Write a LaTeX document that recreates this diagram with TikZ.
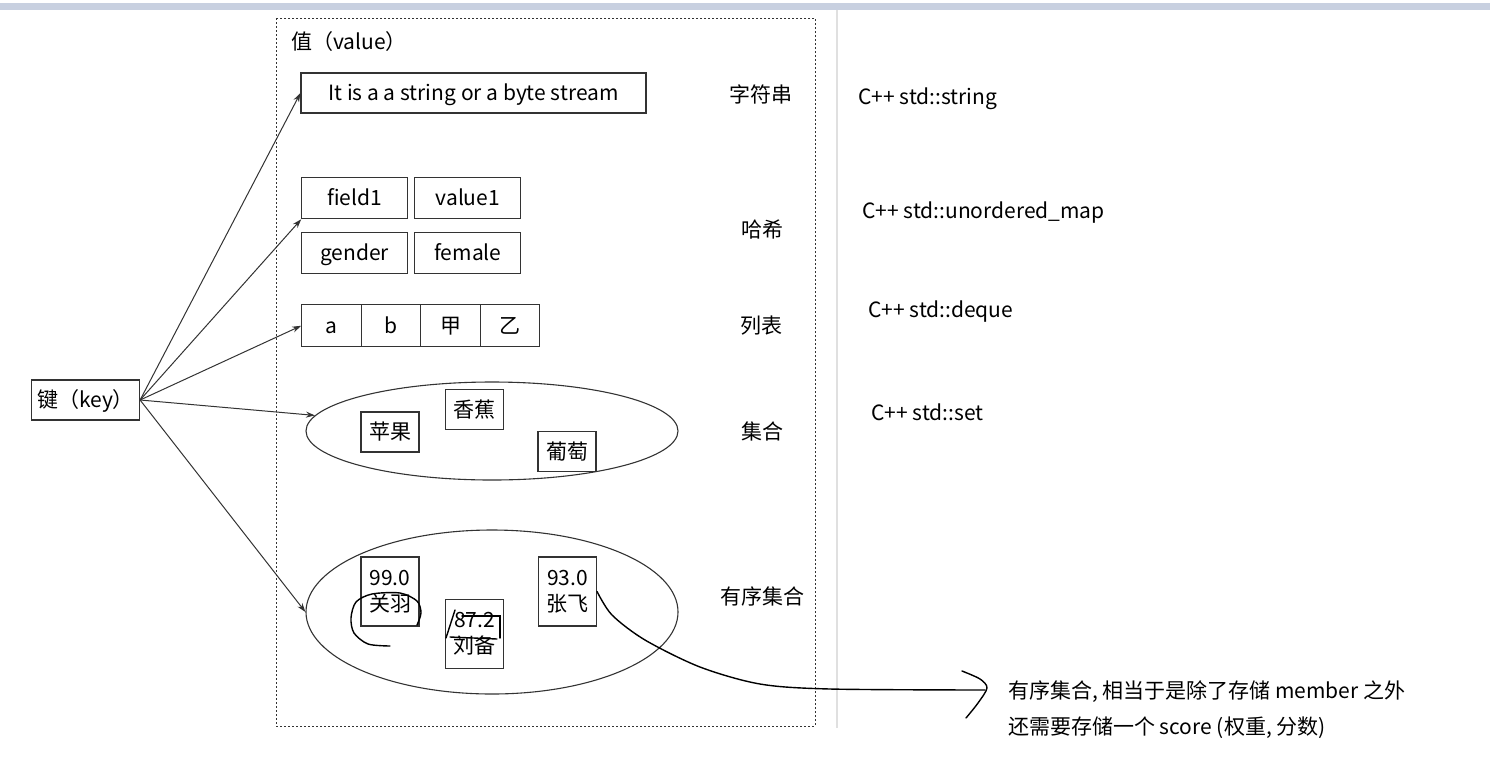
\documentclass[tikz,border=0pt]{standalone}
\usepackage{fontspec}
\setmainfont{Noto Sans CJK SC}
\usetikzlibrary{positioning}
\usetikzlibrary{matrix}
\usetikzlibrary{shapes.geometric}
\usetikzlibrary{arrows.meta}

\definecolor{bandblue}{RGB}{200,208,224}
\definecolor{linegray}{RGB}{51,51,51}

\tikzset{
	txt/.style={font=\fontsize{21}{26}\selectfont, inner sep=0pt},
	ctxt/.style={txt, text height=15, text depth=0pt},
	cell/.style={ctxt, draw=linegray, line width=1.1pt},
	zcell/.style={txt, draw=linegray, line width=1.1pt, align=center, minimum width=58, minimum height=69},
	kvarrow/.style={-{Stealth[length=9pt,width=6pt]}, line width=1pt, linegray},
	ink/.style={line width=1.4pt, black, line cap=round}
}

\begin{document}
\begin{tikzpicture}[x=1pt,y=-1pt]
				\useasboundingbox (0,0) rectangle (1490,764);
				\fill[bandblue] (0,3) rectangle (1490,10);
				\draw[black!12, line width=1.5pt] (837,10) -- (837,728);

				% value area
				\draw[linegray, line width=1pt, dash pattern=on 2pt off 2pt] (276,18) rectangle (815,726);
				\node[ctxt, anchor=west] (valT) at (291,42) {值（value）};

				\node[cell, anchor=west, minimum width=108, minimum height=40, inner sep=3pt] (key) at (31,400) {键（key）};

				% string
				\node[cell, minimum width=345, minimum height=40] (str) at (473.5,93) {It is a a string or a byte stream};

				% hash
				\matrix (hashM) [
					matrix of nodes, nodes={cell, anchor=center, minimum width=106, minimum height=41},
					column sep=6, row sep=13, inner sep=0pt, anchor=north west
				] at (301,177) {
					field1	& value1	\\
					gender	& female	\\
				};

				% list
				\matrix (listM) [
					matrix of nodes, nodes={cell, anchor=center, minimum width=59.5, minimum height=42},
					column sep=-1.1pt, inner sep=0pt, anchor=north west
				] at (301,304) {
					a & b & 甲 & 乙 \\
				};

				% set
				\node[draw=linegray, line width=1.1pt, ellipse, minimum width=372, minimum height=98] (setE) at (492,431) {};
				\node[cell, minimum width=58, minimum height=40] (pg) at (390,432) {苹果};
				\node[cell, minimum width=58, minimum height=40] (xj) at (474.5,409.5) {香蕉};
				\node[cell, minimum width=58, minimum height=40] (pt) at (567,451.5) {葡萄};

				% sorted set
				\node[draw=linegray, line width=1.1pt, ellipse, minimum width=372, minimum height=164] (zsetE) at (492,612) {};
				\node[zcell] (gy) at (390,591.5) {99.0\\关羽};
				\node[zcell] (lb) at (474.5,634) {87.2\\刘备};
				\node[zcell] (zf) at (567.5,591.5) {93.0\\张飞};

				% type names
				\node[ctxt] (tStr) at (761,95) {字符串};
				\node[ctxt] (tHash) at (762,230) {哈希};
				\node[ctxt] (tList) at (761,326) {列表};
				\node[ctxt] (tSet) at (762,432) {集合};
				\node[ctxt] (tZset) at (762,597) {有序集合};

				\node[ctxt, anchor=west] (cStr) at (858,97) {C++ std::string};
				\node[ctxt, anchor=west] (cHash) at (862,211) {C++ std::unordered\_map};
				\node[ctxt, anchor=west] (cList) at (868,310) {C++ std::deque};
				\node[ctxt, anchor=west] (cSet) at (871,413) {C++ std::set};

				% key -> values
				\draw[kvarrow] (key.east) -- (str.west);
				\draw[kvarrow] (key.east) -- (hashM-1-1.south west);
				\draw[kvarrow] (key.east) -- (listM-1-1.west);
				\draw[kvarrow] (key.east) -- (setE);
				\draw[kvarrow] (key.east) -- (zsetE.west);

				% hand notes
				\draw[ink] plot[smooth] coordinates {(390,646) (368,644) (354,633) (351,618) (356,602) (372,594) (400,593) (417,601) (421,613) (417,625)};
				\draw[ink] (446,638) -- (455,610);
				\draw[ink] (462,616) -- (500,616) -- (500,638);
				\draw[ink] (450,637) -- (497,639);
				\draw[ink] plot[smooth] coordinates {(zf.east) (612,615) (645,640) (700,667) (760,684) (830,689) (985,690)};
				\draw[ink] plot[smooth] coordinates {(962,671) (980,679) (987,688) (978,703) (966,718)};

				\node[ctxt, anchor=west] (note1) at (1008,691) {有序集合, 相当于是除了存储 member 之外};
				\node[ctxt, anchor=west] (note2) at (1008,727) {还需要存储一个 score (权重, 分数)};
			\end{tikzpicture}
\end{document}
